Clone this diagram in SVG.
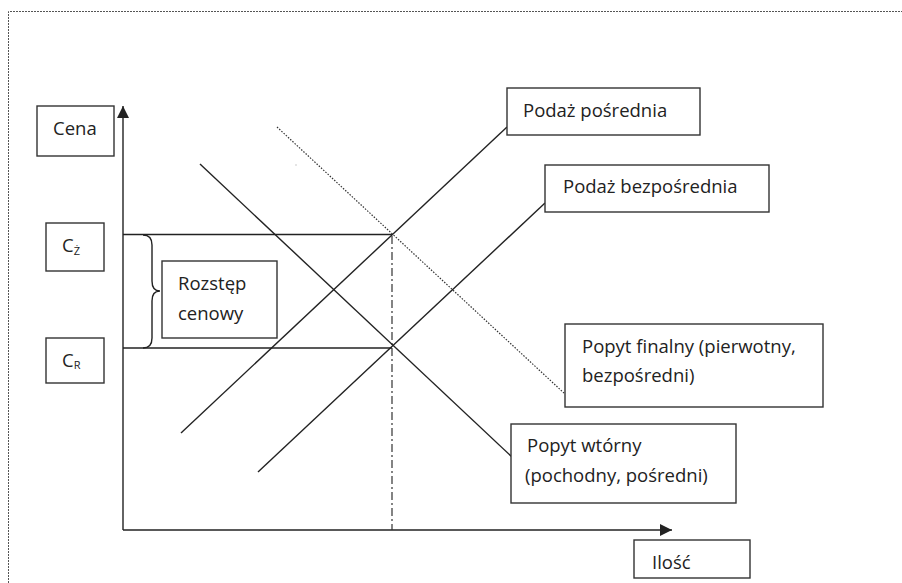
<svg xmlns="http://www.w3.org/2000/svg" width="902" height="583" viewBox="0 0 902 583">
  <style>
    .frame { fill: none; stroke: #555; stroke-width: 1; stroke-dasharray: 2 1; }
    .box rect { fill: #fff; stroke: #333; stroke-width: 1.4; }
    .box text { font-family: "Open Sans", "Liberation Sans", sans-serif; font-size: 18.5px; fill: #222; }
    .sub { font-size: 11px; }
    .ln { fill: none; stroke: #222; stroke-width: 1.4; }
    .dot { fill: none; stroke: #333; stroke-width: 1.2; stroke-dasharray: 1.5 1.5; }
    .dashdot { fill: none; stroke: #333; stroke-width: 1.2; stroke-dasharray: 8 3 2 3; }
  </style>
  <defs>
    <marker id="arrow" viewBox="0 0 12 12" refX="12" refY="6" markerWidth="12" markerHeight="12" markerUnits="userSpaceOnUse" orient="auto">
      <path d="M0,0 L12,6 L0,12 Z" fill="#222"/>
    </marker>
  </defs>

  <rect width="902" height="583" fill="#fff"/>
  <!-- dotted page frame -->
  <path class="frame" d="M8.5,583 V11.5 H902"/>

  <g id="connectors">
    <!-- axes -->
    <line class="ln" x1="123" y1="530" x2="123" y2="106" marker-end="url(#arrow)"/>
    <line class="ln" x1="123" y1="530" x2="672" y2="530" marker-end="url(#arrow)"/>
    <!-- price levels -->
    <line class="ln" x1="123" y1="234.5" x2="392" y2="234.5"/>
    <line class="ln" x1="123" y1="348" x2="392" y2="348"/>
    <!-- quantity marker -->
    <line class="dashdot" x1="392" y1="236" x2="392" y2="530"/>
    <!-- supply curves -->
    <line class="ln" x1="181" y1="433" x2="507" y2="127"/>
    <line class="ln" x1="258" y1="472" x2="545" y2="203"/>
    <!-- demand curves -->
    <line class="ln" x1="200" y1="164" x2="512" y2="457"/>
    <line class="dot" x1="277" y1="127" x2="565" y2="394"/>
    <!-- brace for price spread -->
    <path class="ln" d="M143,235 Q152,235 152,245 V281 Q152,291 160,291 Q152,291 152,301 V338 Q152,348 143,348"/>
    <rect x="295.5" y="164.5" width="1" height="1" fill="#999"/>
  </g>

  <g id="cena" class="box">
    <rect x="37" y="106" width="77" height="50"/>
    <text x="53" y="135">Cena</text>
  </g>
  <g id="c-z" class="box">
    <rect x="46" y="223" width="58" height="48"/>
    <text x="62" y="252">C<tspan class="sub" dy="3">Ż</tspan></text>
  </g>
  <g id="c-r" class="box">
    <rect x="46" y="338" width="58" height="45"/>
    <text x="62" y="367">C<tspan class="sub" dy="2">R</tspan></text>
  </g>
  <g id="rozstep" class="box">
    <rect x="162" y="261" width="115" height="77"/>
    <text x="178" y="290">Rozstęp</text>
    <text x="178" y="320">cenowy</text>
  </g>
  <g id="podaz-posrednia" class="box">
    <rect x="507" y="88" width="193" height="47"/>
    <text x="523" y="117">Podaż pośrednia</text>
  </g>
  <g id="podaz-bezposrednia" class="box">
    <rect x="545" y="165" width="224" height="47"/>
    <text x="563" y="193">Podaż bezpośrednia</text>
  </g>
  <g id="popyt-finalny" class="box">
    <rect x="565" y="324" width="258" height="83"/>
    <text x="582" y="353">Popyt finalny (pierwotny,</text>
    <text x="582" y="382">bezpośredni)</text>
  </g>
  <g id="popyt-wtorny" class="box">
    <rect x="511" y="424" width="225" height="79"/>
    <text x="527" y="452">Popyt wtórny</text>
    <text x="525" y="482">(pochodny, pośredni)</text>
  </g>
  <g id="ilosc" class="box">
    <rect x="634" y="540" width="116" height="38"/>
    <text x="652" y="569">Ilość</text>
  </g>
</svg>
